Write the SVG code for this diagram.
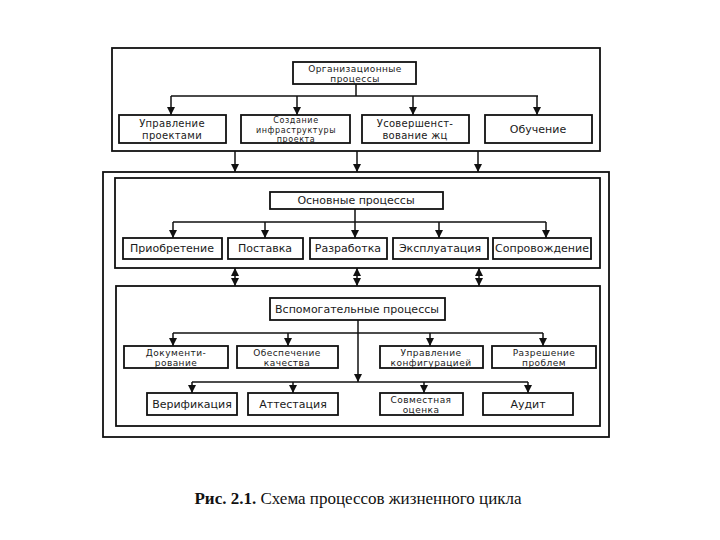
<svg xmlns="http://www.w3.org/2000/svg" width="720" height="540" viewBox="0 0 720 540">
<style>
.frame{fill:none;stroke:#111;stroke-width:1.8}
.box{fill:#fff;stroke:#111;stroke-width:1.8}
.t{font-family:"DejaVu Sans","Liberation Sans",sans-serif;font-size:11px;fill:#1a1a1a;text-anchor:middle}
.m{font-size:9px;letter-spacing:0.45px}
.m10{font-size:10px;letter-spacing:0.3px}
.s{font-size:8px;letter-spacing:0.6px}
.c{fill:none;stroke:#111;stroke-width:1.5}
.a{marker-end:url(#ah)}
.d{marker-end:url(#ah);marker-start:url(#ah)}
.cap{font-family:"Liberation Serif",serif;font-size:17px;fill:#111;text-anchor:middle}
</style>
<defs>
<marker id="ah" markerUnits="userSpaceOnUse" markerWidth="8" markerHeight="8" refX="8" refY="4" orient="auto-start-reverse" viewBox="0 0 8 8">
<path d="M0,0 L8,4 L0,8 z" fill="#111"/>
</marker>
</defs>
<rect width="720" height="540" fill="#fff"/>

<g id="frames">
<rect class="frame" x="112" y="48" width="488" height="103"/>
<rect class="frame" x="103" y="172" width="506" height="265"/>
<rect class="frame" x="115" y="178" width="485" height="90"/>
<rect class="frame" x="116" y="286" width="484" height="140"/>
</g>

<g id="connectors">
<path class="c" d="M356,84 V96 M171,96 H538"/>
<path class="c a" d="M171,96 V115"/>
<path class="c a" d="M297,96 V115"/>
<path class="c a" d="M413,96 V115"/>
<path class="c a" d="M537,96 V115"/>
<path class="c a" d="M235,151 V172"/>
<path class="c a" d="M357,151 V172"/>
<path class="c a" d="M478,151 V172"/>

<path class="c" d="M355,209 V222 M173,222 H546"/>
<path class="c a" d="M173,222 V238"/>
<path class="c a" d="M265,222 V238"/>
<path class="c a" d="M355,222 V238"/>
<path class="c a" d="M439,222 V238"/>
<path class="c a" d="M546,222 V238"/>

<path class="c d" d="M235,268 V286"/>
<path class="c d" d="M357,268 V286"/>
<path class="c d" d="M479,268 V286"/>

<path class="c a" d="M358,320 V382"/>
<path class="c" d="M173,333 H543"/>
<path class="c a" d="M173,333 V346"/>
<path class="c a" d="M288,333 V346"/>
<path class="c a" d="M430,333 V346"/>
<path class="c a" d="M543,333 V346"/>
<path class="c" d="M192,382 H528"/>
<path class="c a" d="M192,382 V393"/>
<path class="c a" d="M293,382 V393"/>
<path class="c a" d="M424,382 V393"/>
<path class="c a" d="M528,382 V393"/>
</g>

<g id="org">
<rect class="box" x="293" y="62" width="123" height="22"/>
<text class="t m" x="355" y="71.5">Организационные</text>
<text class="t m" x="355" y="82">процессы</text>
</g>
<g id="n-upr-proekt">
<rect class="box" x="119" y="115" width="107" height="28"/>
<text class="t m10" x="172" y="127">Управление</text>
<text class="t m10" x="172" y="139">проектами</text>
</g>
<g id="n-infra">
<rect class="box" x="241" y="115" width="109" height="28"/>
<text class="t s" x="296" y="123">Создание</text>
<text class="t s" x="296" y="132.5">инфраструктуры</text>
<text class="t s" x="296" y="142">проекта</text>
</g>
<g id="n-usov">
<rect class="box" x="362" y="115" width="107" height="28"/>
<text class="t m10" x="415" y="127">Усовершенст-</text>
<text class="t m10" x="415" y="139">вование жц</text>
</g>
<g id="n-obuch">
<rect class="box" x="485" y="115" width="107" height="28"/>
<text class="t" x="538" y="133">Обучение</text>
</g>

<g id="osn">
<rect class="box" x="270" y="192" width="173" height="17"/>
<text class="t" x="356" y="204">Основные процессы</text>
</g>
<g id="n-priob">
<rect class="box" x="123" y="238" width="99" height="21"/>
<text class="t" x="172" y="252">Приобретение</text>
</g>
<g id="n-postav">
<rect class="box" x="228" y="238" width="75" height="21"/>
<text class="t" x="265" y="252">Поставка</text>
</g>
<g id="n-razrab">
<rect class="box" x="310" y="238" width="77" height="21"/>
<text class="t" x="348" y="252">Разработка</text>
</g>
<g id="n-ekspl">
<rect class="box" x="393" y="238" width="95" height="21"/>
<text class="t" x="440" y="252">Эксплуатация</text>
</g>
<g id="n-soprov">
<rect class="box" x="493" y="238" width="98" height="21"/>
<text class="t" x="542" y="252">Сопровождение</text>
</g>

<g id="vspom">
<rect class="box" x="270" y="298" width="175" height="22"/>
<text class="t" x="357" y="313">Вспомогательные процессы</text>
</g>
<g id="n-dok">
<rect class="box" x="124" y="346" width="104" height="22"/>
<text class="t m" x="176" y="355.5">Документи-</text>
<text class="t m" x="176" y="366">рование</text>
</g>
<g id="n-kach">
<rect class="box" x="237" y="346" width="101" height="22"/>
<text class="t m" x="287" y="355.5">Обеспечение</text>
<text class="t m" x="287" y="366">качества</text>
</g>
<g id="n-konf">
<rect class="box" x="380" y="346" width="103" height="22"/>
<text class="t m" x="431" y="355.5">Управление</text>
<text class="t m" x="431" y="366">конфигурацией</text>
</g>
<g id="n-probl">
<rect class="box" x="492" y="346" width="104" height="22"/>
<text class="t m" x="544" y="355.5">Разрешение</text>
<text class="t m" x="544" y="366">проблем</text>
</g>
<g id="n-verif">
<rect class="box" x="147" y="393" width="90" height="22"/>
<text class="t" x="192" y="408">Верификация</text>
</g>
<g id="n-attest">
<rect class="box" x="248" y="393" width="90" height="22"/>
<text class="t" x="293" y="408">Аттестация</text>
</g>
<g id="n-sovm">
<rect class="box" x="380" y="393" width="83" height="22"/>
<text class="t m" x="421" y="402.5">Совместная</text>
<text class="t m" x="421" y="413">оценка</text>
</g>
<g id="n-audit">
<rect class="box" x="483" y="393" width="90" height="22"/>
<text class="t" x="528" y="408">Аудит</text>
</g>

<text class="cap" x="358" y="504"><tspan font-weight="bold">Рис. 2.1.</tspan> Схема процессов жизненного цикла</text>
</svg>
